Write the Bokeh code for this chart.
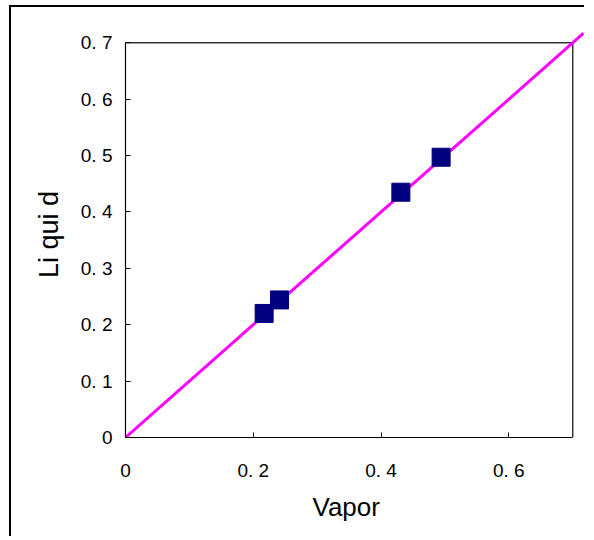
from bokeh.plotting import figure
from bokeh.models import Range1d, FixedTicker, Title
from bokeh.embed import file_html
from bokeh.resources import INLINE

# data
vapor = [0.217, 0.241, 0.431, 0.494]
liquid = [0.220, 0.244, 0.435, 0.497]
diag_x = [0.0, 0.717]
diag_y = [0.0, 0.717]
axis_max = 0.7
x_ticks = [0, 0.2, 0.4, 0.6]
x_tick_labels = ["0", "0. 2", "0. 4", "0. 6"]
y_ticks = [0, 0.1, 0.2, 0.3, 0.4, 0.5, 0.6, 0.7]
y_tick_labels = ["0", "0. 1", "0. 2", "0. 3", "0. 4", "0. 5", "0. 6", "0. 7"]

FONT = "Liberation Sans"

p = figure(width=575, height=531,
           x_range=Range1d(0, 0.72), y_range=Range1d(0, 0.72),
           output_backend="svg", toolbar_location=None,
           min_border_left=114, min_border_right=1,
           min_border_top=24, min_border_bottom=101)
p.styles = {"border-left": "2px solid #000", "border-top": "2px solid #000",
            "margin-left": "9px", "margin-top": "5px"}
p.outline_line_color = None
p.xgrid.visible = False
p.ygrid.visible = False
p.background_fill_color = "white"
p.border_fill_color = "white"

# frame box top/right edges
p.line([0, axis_max, axis_max], [axis_max, axis_max, 0], line_color="#333333", line_width=1.5)

p.line(diag_x, diag_y, line_color="#FF00FF", line_width=3)
p.scatter(vapor, liquid, marker="square", size=18,
          fill_color="#000080", line_color="#000080")

for ax in (p.xaxis[0], p.yaxis[0]):
    ax.bounds = (0, axis_max)
    ax.axis_line_color = "#000000"
    ax.axis_line_width = 1.2
    ax.major_tick_in = 5
    ax.major_tick_out = 0
    ax.major_tick_line_color = "#000000"
    ax.minor_tick_line_color = None
    ax.major_label_text_font = FONT
    ax.major_label_text_font_size = "19px"
    ax.major_label_text_color = "#000000"
    ax.axis_label_text_font = FONT
    ax.axis_label_text_font_style = "normal"
    ax.axis_label_text_color = "#000000"

p.xaxis.ticker = FixedTicker(ticks=x_ticks)
p.xaxis.major_label_overrides = dict(zip(x_ticks, x_tick_labels))
p.yaxis.ticker = FixedTicker(ticks=y_ticks)
p.yaxis.major_label_overrides = dict(zip(y_ticks, y_tick_labels))
p.yaxis.axis_label = "Li qui d"
p.yaxis.axis_label_text_font_size = "27px"
p.xaxis.major_label_standoff = 22
p.yaxis.major_label_standoff = 13
p.yaxis.axis_label_standoff = 14

x_title = Title(text="Vapor", align="left", offset=187, standoff=12,
                text_font=FONT, text_font_size="26px", text_font_style="normal",
                text_color="#000000")
p.add_layout(x_title, "below")

open("out.html", "w").write(file_html(p, INLINE))
